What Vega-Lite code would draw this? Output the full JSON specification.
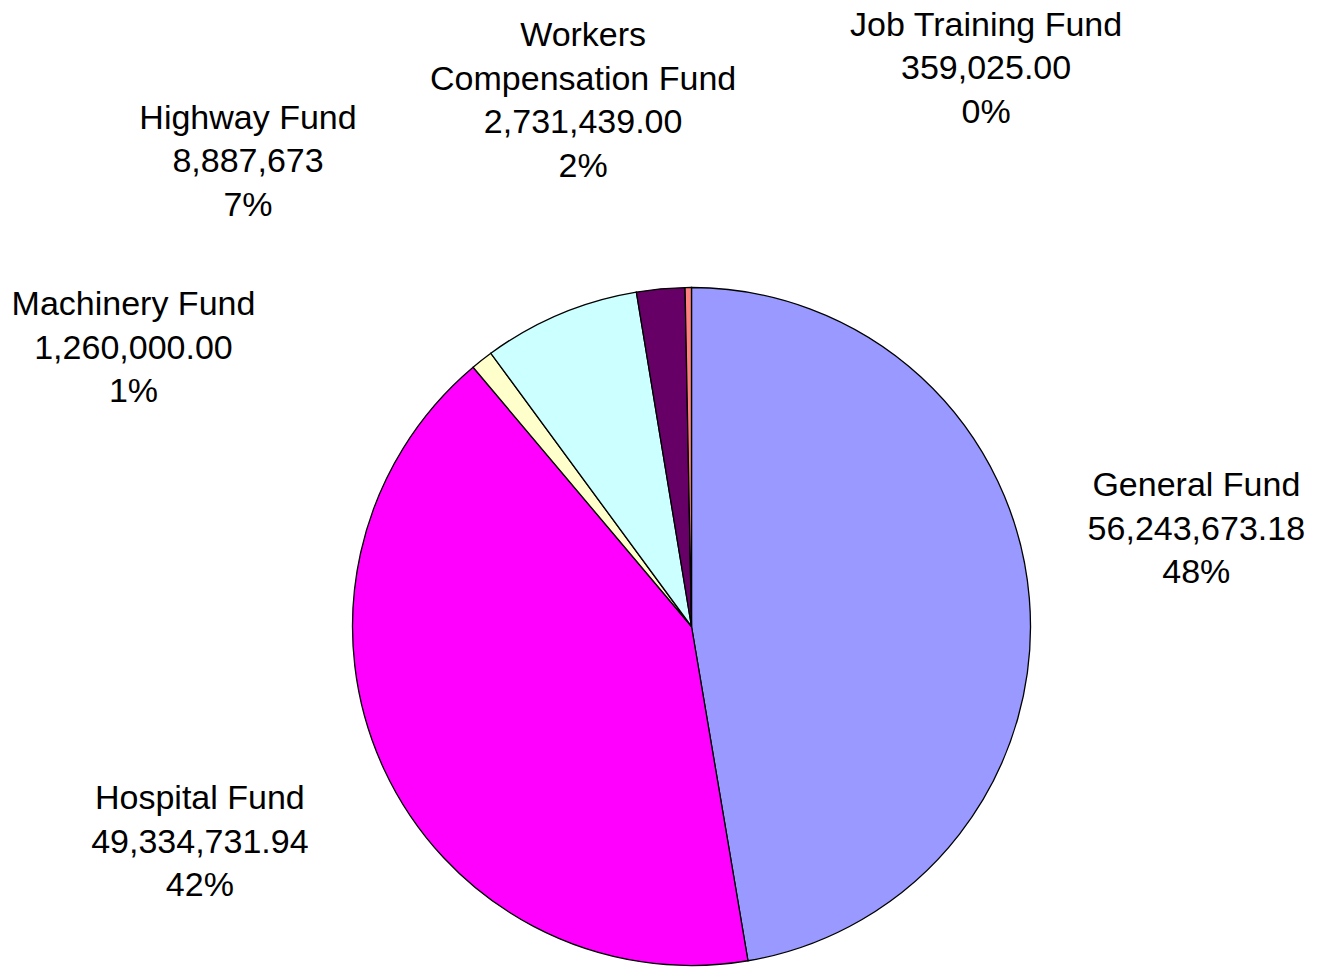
{
  "$schema": "https://vega.github.io/schema/vega-lite/v6.json",
  "width": 678,
  "height": 678,
  "autosize": {"type": "none"},
  "padding": {"left": 352.5, "top": 287.5, "right": 295.5, "bottom": 4.5},
  "background": "white",
  "config": {"view": {"stroke": null}},
  "data": {
    "values": [
      {"fund": "General Fund", "value": 56243673.18, "rank": 1, "label": "General Fund\n56,243,673.18\n48%"},
      {"fund": "Hospital Fund", "value": 49334731.94, "rank": 2, "label": "Hospital Fund\n49,334,731.94\n42%"},
      {"fund": "Machinery Fund", "value": 1260000.00, "rank": 3, "label": "Machinery Fund\n1,260,000.00\n1%"},
      {"fund": "Highway Fund", "value": 8887673, "rank": 4, "label": "Highway Fund\n8,887,673\n7%"},
      {"fund": "Workers Compensation Fund", "value": 2731439.00, "rank": 5, "label": "Workers\nCompensation Fund\n2,731,439.00\n2%"},
      {"fund": "Job Training Fund", "value": 359025.00, "rank": 6, "label": "Job Training Fund\n359,025.00\n0%"}
    ]
  },
  "layer": [
    {
      "mark": {"type": "arc", "stroke": "black", "strokeWidth": 1.3},
      "encoding": {
        "theta": {"field": "value", "type": "quantitative", "stack": true},
        "order": {"field": "rank", "type": "quantitative"},
        "color": {
          "field": "fund", "type": "nominal", "legend": null,
          "scale": {
            "domain": ["General Fund", "Hospital Fund", "Machinery Fund", "Highway Fund", "Workers Compensation Fund", "Job Training Fund"],
            "range": ["#9999FF", "#FF00FF", "#FFFFCC", "#CCFFFF", "#660066", "#FF8080"]
          }
        }
      }
    },
    {
      "mark": {"type": "text", "radius": 524, "thetaOffset": -0.1876, "font": "Liberation Sans", "fontSize": 34, "lineHeight": 43.5, "lineBreak": "\n", "align": "center", "baseline": "middle", "fill": "black"},
      "encoding": {
        "theta": {"field": "value", "type": "quantitative", "stack": true},
        "order": {"field": "rank", "type": "quantitative"},
        "text": {"condition": {"test": "datum.fund === 'General Fund'", "field": "label"}, "value": ""}
      }
    },
    {
      "mark": {"type": "text", "radius": 521, "thetaOffset": 0.0962, "font": "Liberation Sans", "fontSize": 34, "lineHeight": 43.5, "lineBreak": "\n", "align": "center", "baseline": "middle", "fill": "black"},
      "encoding": {
        "theta": {"field": "value", "type": "quantitative", "stack": true},
        "order": {"field": "rank", "type": "quantitative"},
        "text": {"condition": {"test": "datum.fund === 'Hospital Fund'", "field": "label"}, "value": ""}
      }
    },
    {
      "mark": {"type": "text", "radius": 644, "thetaOffset": -0.3814, "font": "Liberation Sans", "fontSize": 34, "lineHeight": 43.5, "lineBreak": "\n", "align": "center", "baseline": "middle", "fill": "black"},
      "encoding": {
        "theta": {"field": "value", "type": "quantitative", "stack": true},
        "order": {"field": "rank", "type": "quantitative"},
        "text": {"condition": {"test": "datum.fund === 'Machinery Fund'", "field": "label"}, "value": ""}
      }
    },
    {
      "mark": {"type": "text", "radius": 674, "thetaOffset": -0.3197, "font": "Liberation Sans", "fontSize": 34, "lineHeight": 43.5, "lineBreak": "\n", "align": "center", "baseline": "middle", "fill": "black"},
      "encoding": {
        "theta": {"field": "value", "type": "quantitative", "stack": true},
        "order": {"field": "rank", "type": "quantitative"},
        "text": {"condition": {"test": "datum.fund === 'Highway Fund'", "field": "label"}, "value": ""}
      }
    },
    {
      "mark": {"type": "text", "radius": 600, "thetaOffset": -0.0904, "font": "Liberation Sans", "fontSize": 34, "lineHeight": 43.5, "lineBreak": "\n", "align": "center", "baseline": "middle", "fill": "black"},
      "encoding": {
        "theta": {"field": "value", "type": "quantitative", "stack": true},
        "order": {"field": "rank", "type": "quantitative"},
        "text": {"condition": {"test": "datum.fund === 'Workers Compensation Fund'", "field": "label"}, "value": ""}
      }
    },
    {
      "mark": {"type": "text", "radius": 669, "thetaOffset": 0.4655, "font": "Liberation Sans", "fontSize": 34, "lineHeight": 43.5, "lineBreak": "\n", "align": "center", "baseline": "middle", "fill": "black"},
      "encoding": {
        "theta": {"field": "value", "type": "quantitative", "stack": true},
        "order": {"field": "rank", "type": "quantitative"},
        "text": {"condition": {"test": "datum.fund === 'Job Training Fund'", "field": "label"}, "value": ""}
      }
    }
  ]
}
